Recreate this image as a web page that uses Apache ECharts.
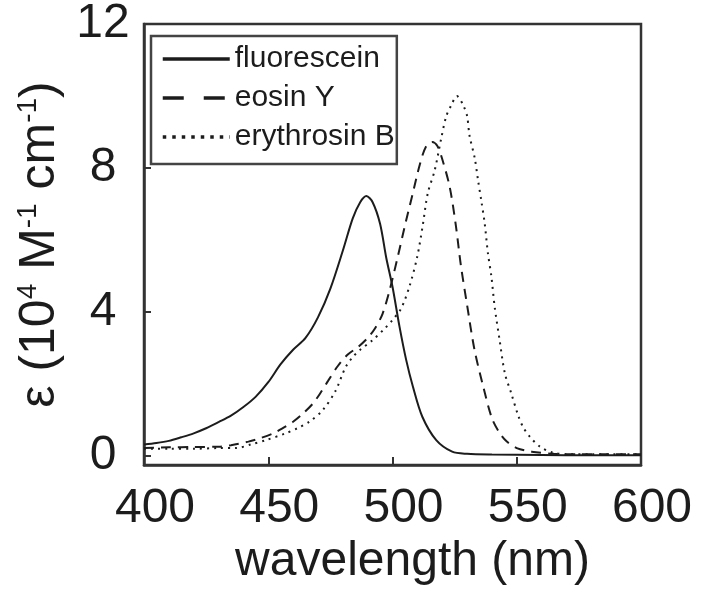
<!DOCTYPE html>
<html>
<head>
<meta charset="utf-8">
<script src="https://cdn.jsdelivr.net/npm/echarts@6/dist/echarts.min.js"></script>
<style>html,body{margin:0;padding:0;background:#fff}#c{width:712px;height:606px}</style>
</head>
<body>
<div id="c"></div>
<script>
// ---- data ----
const seriesNames = ['fluorescein', 'eosin Y', 'erythrosin B'];
const xTicks = [400, 450, 500, 550, 600];
const yTicks = [0, 4, 8, 12];

const fluoWl  = [400, 405, 410, 415, 420, 425, 430, 435, 440, 445, 450, 455, 460, 465, 470, 475, 480, 484, 487, 489.5, 492, 495, 497.5, 500, 502.8, 505.5, 508.2, 512, 517.6, 524, 530, 540, 560, 580, 600];
const fluoEps = [0.32, 0.36, 0.42, 0.52, 0.63, 0.77, 0.94, 1.12, 1.36, 1.65, 2.05, 2.55, 2.95, 3.28, 3.85, 4.65, 5.7, 6.6, 7.05, 7.22, 7.05, 6.45, 5.5, 4.7, 3.6, 2.67, 1.93, 1.09, 0.44, 0.12, 0.06, 0.04, 0.03, 0.02, 0.02];

const eosWl  = [400, 410, 420, 430, 435, 442, 447, 452, 456, 460, 464, 468, 471, 474, 478, 482, 486, 490, 493, 496, 499, 502, 505, 508, 511, 513.5, 516, 518, 520, 523, 525.5, 527.5, 530, 533, 536.5, 540, 543, 546, 550, 556, 565, 575, 585, 600];
const eosEps = [0.22, 0.24, 0.25, 0.26, 0.3, 0.4, 0.5, 0.63, 0.78, 0.95, 1.18, 1.46, 1.75, 2.08, 2.5, 2.82, 3.02, 3.28, 3.55, 3.95, 4.65, 5.5, 6.4, 7.25, 8.1, 8.6, 8.72, 8.62, 8.25, 7.48, 6.4, 5.3, 4.2, 2.95, 1.93, 1.05, 0.65, 0.4, 0.22, 0.12, 0.06, 0.05, 0.05, 0.05];

const eryWl  = [400, 410, 420, 430, 437, 443, 449, 457, 462, 466.5, 472, 477, 481, 484, 487, 492, 497, 500, 503.5, 507, 510, 512.2, 514.2, 517, 519.6, 521.6, 523.7, 525.9, 528.4, 530, 531, 533.1, 534.4, 535.8, 537.1, 538.4, 539.8, 541.1, 543.1, 545.2, 547.8, 550.5, 552.5, 555.2, 559.3, 564.6, 570, 580, 600];
const eryEps = [0.2, 0.2, 0.2, 0.22, 0.22, 0.32, 0.44, 0.63, 0.78, 0.95, 1.28, 1.8, 2.45, 2.75, 2.95, 3.22, 3.55, 3.78, 4.1, 4.75, 5.55, 6.42, 7.3, 7.94, 8.82, 9.43, 9.75, 10.0, 9.75, 9.45, 8.9, 8.27, 7.67, 7.06, 6.46, 5.63, 4.98, 4.15, 3.22, 2.3, 1.74, 1.14, 0.81, 0.54, 0.26, 0.09, 0.05, 0.05, 0.05];

// ---- chart ----
const zip = (a, b) => a.map((v, i) => [v, b[i]]);
const FONT = '"Liberation Sans", Arial, Helvetica, sans-serif';
const INK = '#1c1c1c';
const AX = '#333333';
const hiddenSym = {opacity: 0, color: 'transparent', borderWidth: 0};

const chart = echarts.init(document.getElementById('c'), null, {renderer: 'canvas'});
const lineCommon = {type: 'line', showSymbol: false, symbol: 'none', smooth: 0.3, animation: false, itemStyle: {color: INK}};

chart.setOption({
  backgroundColor: '#ffffff',
  animation: false,
  grid: {left: 144, right: 71, top: 24, bottom: 141, show: true, borderColor: AX, borderWidth: 2.5, backgroundColor: 'transparent'},
  legend: {
    left: 151, top: 36, orient: 'vertical',
    padding: [8, 2, 12, 10],
    borderColor: '#444', borderWidth: 2.5, backgroundColor: '#fff',
    itemWidth: 67, itemHeight: 30, itemGap: 9,
    textStyle: {fontSize: 30, color: INK, fontFamily: FONT},
    data: [
      {name: seriesNames[0], itemStyle: hiddenSym, lineStyle: {width: 3.5, type: 'solid', color: INK}},
      {name: seriesNames[1], itemStyle: hiddenSym, lineStyle: {width: 3.5, type: [21, 20], color: INK}},
      {name: seriesNames[2], itemStyle: hiddenSym, lineStyle: {width: 3.5, type: [3.5, 6], color: INK}}
    ]
  },
  xAxis: {
    type: 'value', min: xTicks[0], max: xTicks[xTicks.length - 1], interval: 50,
    name: 'wavelength (nm)', nameLocation: 'middle', nameGap: 73,
    nameTextStyle: {fontSize: 48, color: INK, fontFamily: FONT, padding: [0, 0, 0, 40]},
    axisLine: {show: true, onZero: false, lineStyle: {color: AX, width: 2.5}},
    axisTick: {show: true, inside: true, length: 8, lineStyle: {color: AX, width: 2}},
    axisLabel: {fontSize: 48, color: INK, fontFamily: FONT, margin: 20, padding: [0, 0, 0, 22],
      customValues: xTicks},
    splitLine: {show: false}
  },
  yAxis: {
    type: 'value', min: -0.25, max: 12,
    name: '{a|ε (10}{s|4}{a| M}{s|-1}{a| cm}{s|-1}{a|)}',
    nameLocation: 'middle', nameGap: 75, nameRotate: 90,
    nameTextStyle: {
      color: INK, fontFamily: FONT, fontSize: 50,
      rich: {
        a: {fontSize: 50, fontFamily: FONT, color: INK, lineHeight: 52},
        s: {fontSize: 28, fontFamily: FONT, color: INK, lineHeight: 30, verticalAlign: 'top'}
      }
    },
    axisLine: {show: true, onZero: false, lineStyle: {color: AX, width: 2.5}},
    axisTick: {show: true, inside: true, length: 7, lineStyle: {color: AX, width: 2}, customValues: yTicks},
    axisLabel: {fontSize: 48, color: INK, fontFamily: FONT, margin: 41, align: 'center', customValues: yTicks},
    splitLine: {show: false}
  },
  series: [
    Object.assign({}, lineCommon, {name: seriesNames[0], data: zip(fluoWl, fluoEps), lineStyle: {color: INK, width: 2, type: 'solid'}, z: 3}),
    Object.assign({}, lineCommon, {name: seriesNames[1], data: zip(eosWl, eosEps), lineStyle: {color: INK, width: 2, type: [10, 7]}, z: 2}),
    Object.assign({}, lineCommon, {name: seriesNames[2], data: zip(eryWl, eryEps), lineStyle: {color: INK, width: 2, type: [2, 5]}, z: 1})
  ]
});
</script>
</body>
</html>
